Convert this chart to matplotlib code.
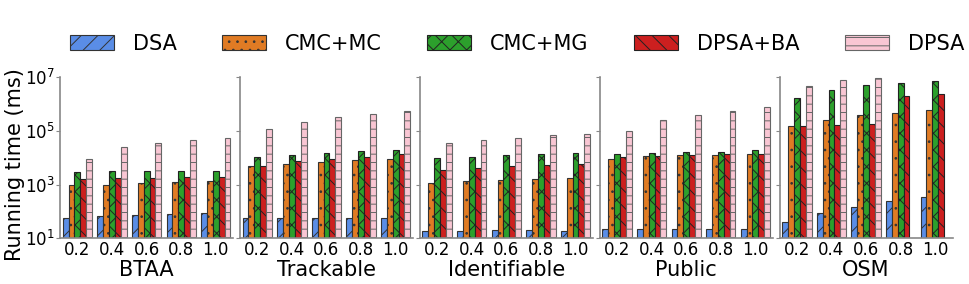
import numpy as np
import matplotlib
matplotlib.use('Agg')
import matplotlib.pyplot as plt
from matplotlib.ticker import FixedLocator, NullLocator

# methods and datasets
methods = ['DSA', 'CMC+MC', 'CMC+MG', 'DPSA+BA', 'DPSA']
datasets = ['BTAA', 'Trackable', 'Identifiable', 'Public', 'OSM']
ratios = ['0.2', '0.4', '0.6', '0.8', '1.0']

# running time (ms), one list per method, rows = ratio
btaa_dsa = [55, 68, 74, 80, 85]
btaa_mc = [930, 1000, 1100, 1200, 1300]
btaa_mg = [2900, 3200, 3200, 3200, 3200]
btaa_ba = [1550, 1700, 1700, 1850, 1850]
btaa_dpsa = [8700, 24000, 34000, 44000, 56000]

track_dsa = [57, 57, 57, 57, 57]
track_mc = [4900, 5700, 6900, 8100, 8900]
track_mg = [10700, 13000, 14700, 17600, 19000]
track_ba = [5000, 7200, 8700, 10300, 13200]
track_dpsa = [115000, 220000, 320000, 420000, 540000]

ident_dsa = [18, 18, 20, 20, 18]
ident_mc = [1100, 1350, 1480, 1600, 1800]
ident_mg = [9400, 11000, 12500, 13500, 14400]
ident_ba = [3500, 4000, 4900, 5300, 5800]
ident_dpsa = [35000, 45000, 56000, 69000, 76000]

public_dsa = [22, 22, 22, 22, 22]
public_mc = [8900, 11200, 12300, 12300, 13500]
public_mg = [13200, 14400, 15800, 15800, 18700]
public_ba = [10500, 11500, 12500, 13500, 13800]
public_dpsa = [102000, 260000, 370000, 540000, 740000]

osm_dsa = [39, 85, 145, 245, 355]
osm_mc = [148000, 245000, 380000, 455000, 590000]
osm_mg = [1.6e6, 3.2e6, 5.0e6, 5.9e6, 6.9e6]
osm_ba = [148000, 162000, 178000, 1.9e6, 2.3e6]
osm_dpsa = [4.6e6, 7.6e6, 8.9e6, np.nan, np.nan]

table = {
    'BTAA': [btaa_dsa, btaa_mc, btaa_mg, btaa_ba, btaa_dpsa],
    'Trackable': [track_dsa, track_mc, track_mg, track_ba, track_dpsa],
    'Identifiable': [ident_dsa, ident_mc, ident_mg, ident_ba, ident_dpsa],
    'Public': [public_dsa, public_mc, public_mg, public_ba, public_dpsa],
    'OSM': [osm_dsa, osm_mc, osm_mg, osm_ba, osm_dpsa],
}

colors = ['#5a8de6', '#e07b24', '#2ca02c', '#cc1f1f', '#f9c6d3']
edges = ['#333333', '#333333', '#222222', '#222222', '#666666']
hatches = ['//', '..', 'xx', '\\\\', '--']

plt.rcParams['hatch.linewidth'] = 0.7

fig, axes = plt.subplots(1, 5, figsize=(9.7, 2.84), dpi=100, sharey=True)
fig.subplots_adjust(left=0.062, right=0.982, bottom=0.161, top=0.729, wspace=0.04)

x = np.arange(len(ratios))
w = 0.17
for ax, name in zip(axes, datasets):
    for i, m in enumerate(methods):
        vals = np.array(table[name][i], dtype=float)
        ax.bar(x + (i - 2) * w, vals, w, color=colors[i], edgecolor=edges[i],
               hatch=hatches[i], linewidth=0.8, label=m)
    ax.set_yscale('log')
    ax.set_ylim(10, 1e7)
    ax.set_xlim(-0.5, 4.5)
    ax.set_xticks(x)
    ax.set_xticklabels(ratios, fontsize=12)
    ax.set_xlabel(name, fontsize=15, labelpad=1)
    ax.yaxis.set_major_locator(FixedLocator([1e1, 1e3, 1e5, 1e7]))
    ax.yaxis.set_minor_locator(NullLocator())
    for s in ['top', 'right']:
        ax.spines[s].set_visible(False)
    for s in ['left', 'bottom']:
        ax.spines[s].set_color('#888888')
        ax.spines[s].set_linewidth(1.2)
    ax.tick_params(axis='both', colors='#888888', labelcolor='black', length=3)
    ax.tick_params(axis='x', length=0, pad=2)

axes[0].tick_params(axis='y', labelsize=12, pad=1)
axes[0].set_ylabel('Running time (ms)', fontsize=15)
axes[0].yaxis.set_label_coords(-0.205, 0.46)

handles, labels = axes[0].get_legend_handles_labels()
fig.legend(handles, labels, loc='center', bbox_to_anchor=(0.533, 0.845), ncol=5,
           frameon=False, fontsize=15, handlelength=2.1, handleheight=0.72,
           handletextpad=0.9, columnspacing=2.2)

plt.savefig('out.png', dpi=100)
